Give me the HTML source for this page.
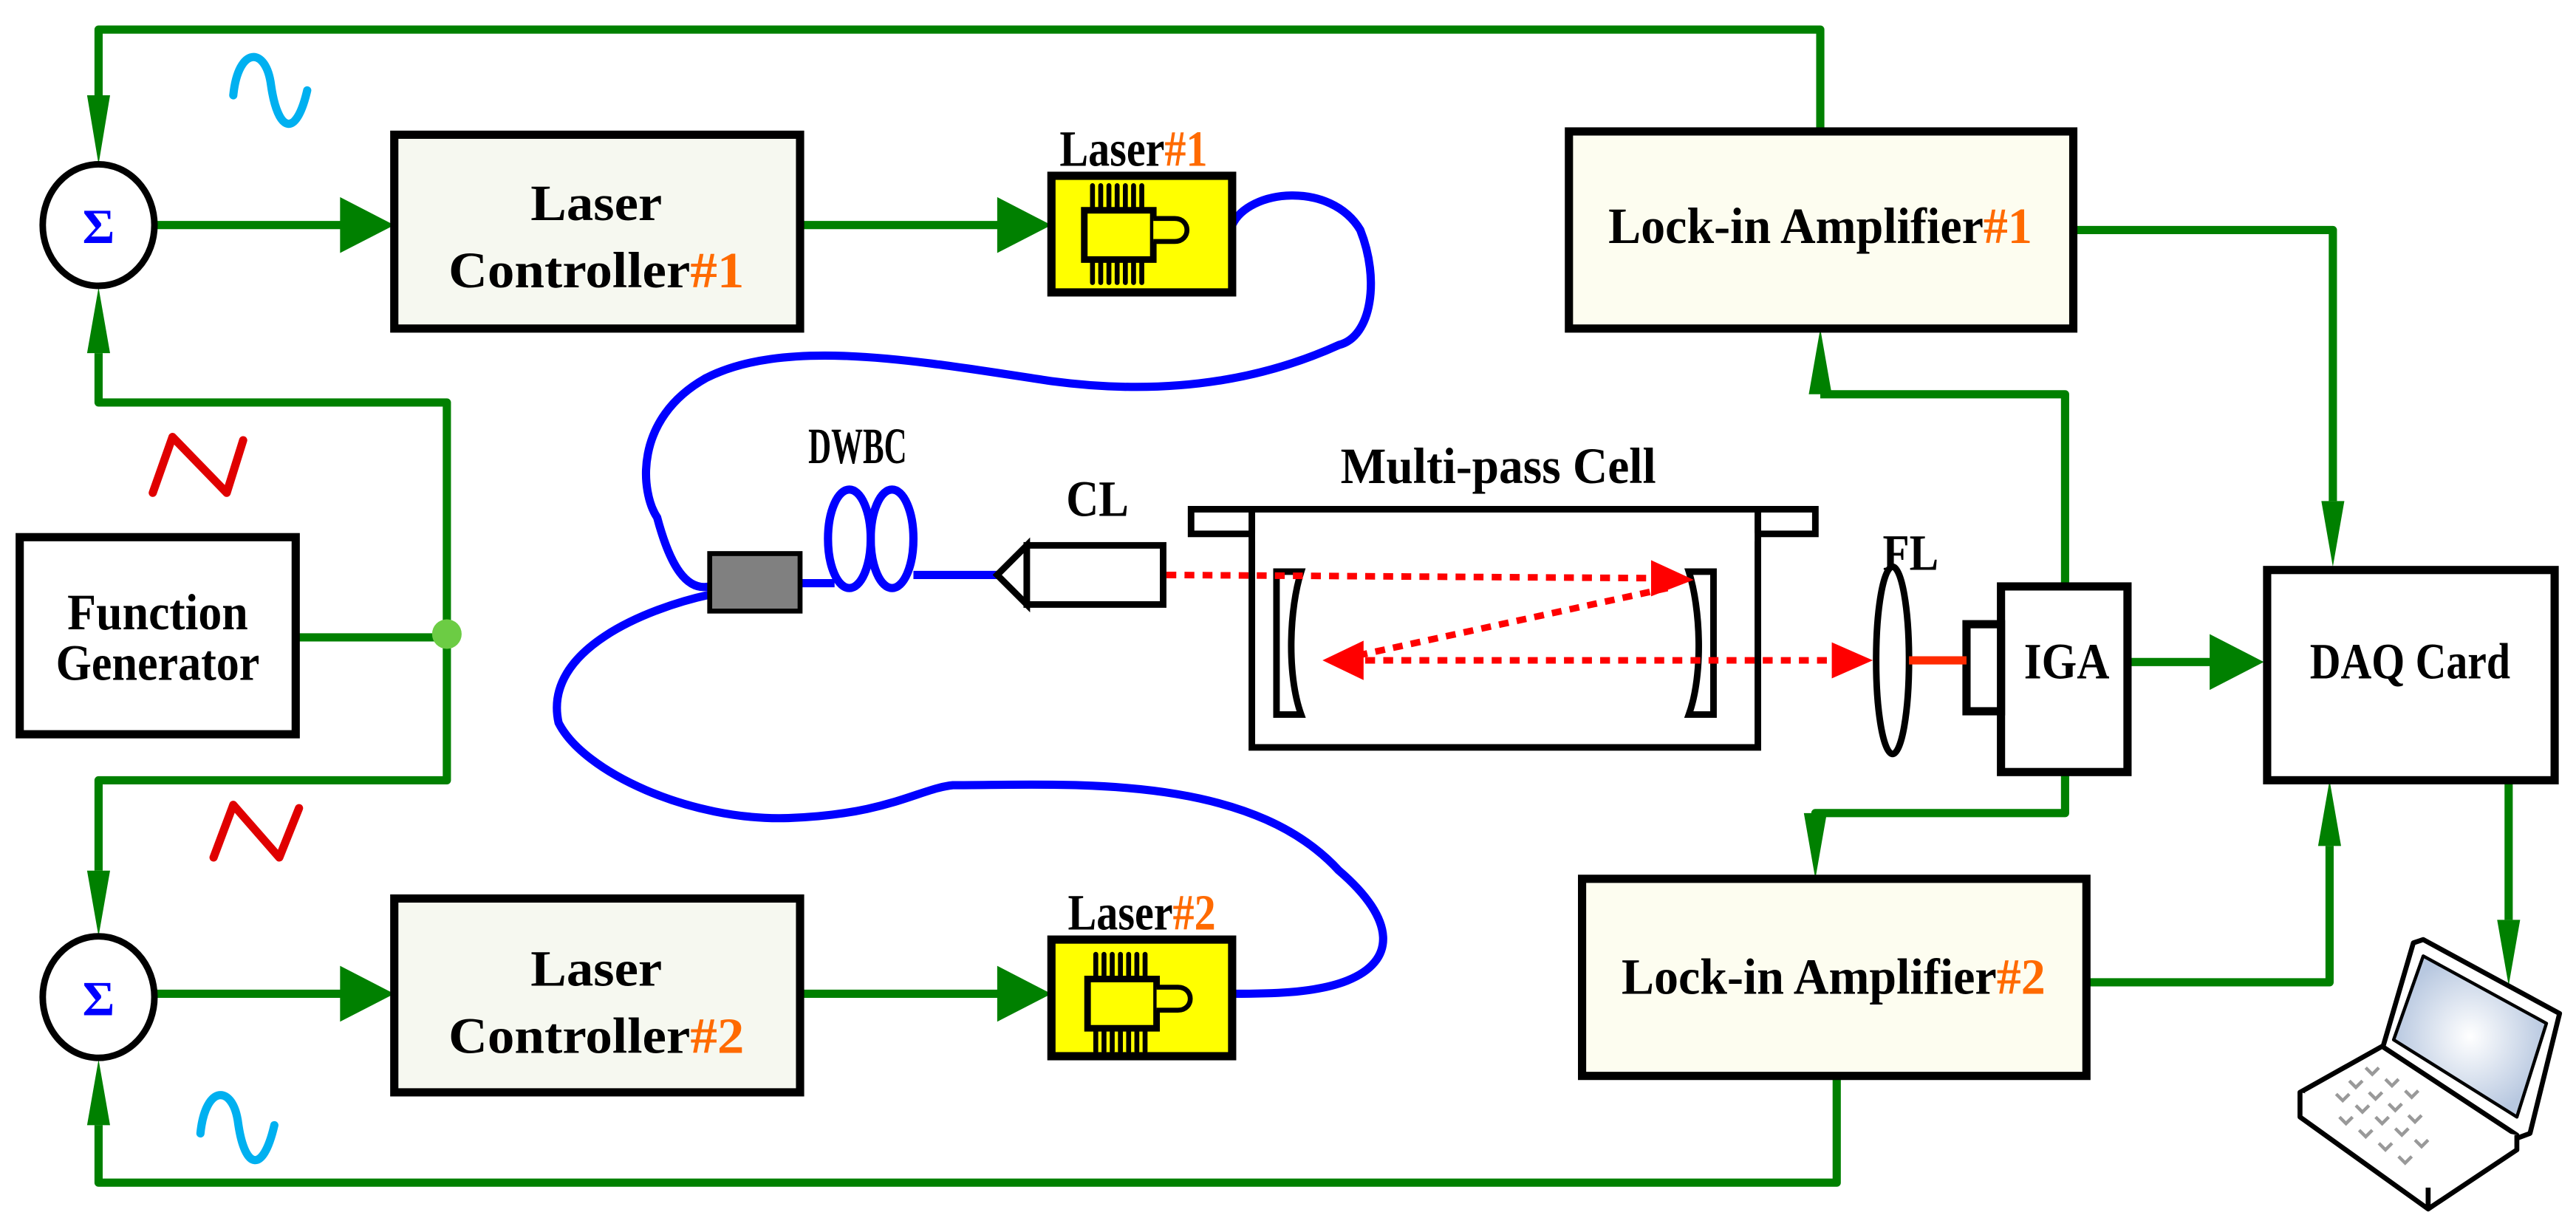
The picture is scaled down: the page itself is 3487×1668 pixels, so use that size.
<!DOCTYPE html>
<html><head><meta charset="utf-8"><style>html,body{margin:0;padding:0;background:#fff}svg{display:block}text{font-family:"Liberation Serif",serif;font-weight:bold}</style></head>
<body>
<svg width="3487" height="1668" viewBox="0 0 1568 750" xmlns="http://www.w3.org/2000/svg">
<g fill="none" stroke="#008000" stroke-width="5" stroke-linejoin="round">
<polyline points="1108,80 1108,18 60,18 60,60"/>
<line x1="95" y1="137" x2="212" y2="137"/>
<line x1="487" y1="137" x2="612" y2="137"/>
<polyline points="180,388 272,388"/>
<polyline points="60,215 60,245 272,245 272,475 60,475 60,530"/>
<line x1="95" y1="605" x2="212" y2="605"/>
<line x1="487" y1="605" x2="612" y2="605"/>
<polyline points="1118,655 1118,720 60,720 60,685"/>
<polyline points="1262,140 1420,140 1420,305"/>
<polyline points="1257,355 1257,240 1108,240"/>
<line x1="1295" y1="403" x2="1350" y2="403"/>
<polyline points="1257,470 1257,495 1105,495 1105,500"/>
<polyline points="1270,598 1418,598 1418,515"/>
<polyline points="1527,475 1527,560"/>
</g>
<g fill="#008000">
<path d="M53,58 L67,58 L60,100Z"/>
<path d="M53,215 L67,215 L60,175Z"/>
<path d="M53,530 L67,530 L60,570Z"/>
<path d="M53,685 L67,685 L60,645Z"/>
<path d="M1101,240 L1115,240 L1108,200Z"/>
<path d="M1413,305 L1427,305 L1420,345Z"/>
<path d="M1098,495 L1112,495 L1105,535Z"/>
<path d="M1411,515 L1425,515 L1418,475Z"/>
<path d="M1520,560 L1534,560 L1527,600Z"/>
<path d="M207,120 L240,137 L207,154Z"/>
<path d="M607,120 L640,137 L607,154Z"/>
<path d="M207,588 L240,605 L207,622Z"/>
<path d="M607,588 L640,605 L607,622Z"/>
<path d="M1345,386 L1378,403 L1345,420Z"/>
</g>
<circle cx="272" cy="386" r="9" fill="#6ccc44"/>
<ellipse cx="60" cy="137" rx="34" ry="37" fill="#fff" stroke="#000" stroke-width="4"/>
<ellipse cx="60" cy="607" rx="34" ry="37" fill="#fff" stroke="#000" stroke-width="4"/>
<text x="60" y="148" text-anchor="middle" font-size="30" fill="#0000ff">Σ</text>
<text x="60" y="618" text-anchor="middle" font-size="30" fill="#0000ff">Σ</text>
<path d="M142,58 C145,28 162,28 165,52 C169,80 180,85 187,55" fill="none" stroke="#00b0f0" stroke-width="5" stroke-linecap="round"/>
<path d="M122,690 C125,660 142,660 145,684 C149,712 160,715 167,685" fill="none" stroke="#00b0f0" stroke-width="5" stroke-linecap="round"/>
<polyline points="93,300 105,266 138,300 148,268" fill="none" stroke="#e00000" stroke-width="5" stroke-linecap="round" stroke-linejoin="round"/>
<polyline points="130,522 142,490 170,522 182,492" fill="none" stroke="#e00000" stroke-width="5" stroke-linecap="round" stroke-linejoin="round"/>
<g stroke="#000" stroke-width="5">
<rect x="240" y="82" width="247" height="118" fill="#f6f8f0"/>
<rect x="240" y="547" width="247" height="118" fill="#f6f8f0"/>
<rect x="12" y="327" width="168" height="120" fill="#fff"/>
<rect x="955" y="80" width="307" height="120" fill="#fdfdf0"/>
<rect x="963" y="535" width="307" height="120" fill="#fdfdf0"/>
<rect x="1380" y="347" width="175" height="128" fill="#fff"/>
<rect x="1218" y="357" width="77" height="113" fill="#fff"/>
<rect x="1197" y="380" width="21" height="53" fill="#fff"/>
</g>
<g font-size="31" text-anchor="middle">
<text x="363" y="134" textLength="80" lengthAdjust="spacingAndGlyphs">Laser</text>
<text x="363" y="175" textLength="180" lengthAdjust="spacingAndGlyphs">Controller<tspan fill="#ff6a00">#1</tspan></text>
<text x="363" y="600" textLength="80" lengthAdjust="spacingAndGlyphs">Laser</text>
<text x="363" y="641" textLength="180" lengthAdjust="spacingAndGlyphs">Controller<tspan fill="#ff6a00">#2</tspan></text>
<text x="96" y="383" textLength="110" lengthAdjust="spacingAndGlyphs">Function</text>
<text x="96" y="414" textLength="124" lengthAdjust="spacingAndGlyphs">Generator</text>
<text x="1108" y="148" textLength="258" lengthAdjust="spacingAndGlyphs">Lock-in Amplifier<tspan fill="#ff6a00">#1</tspan></text>
<text x="1116" y="605" textLength="258" lengthAdjust="spacingAndGlyphs">Lock-in Amplifier<tspan fill="#ff6a00">#2</tspan></text>
<text x="1467" y="413" textLength="122" lengthAdjust="spacingAndGlyphs">DAQ Card</text>
<text x="1258" y="413" textLength="52" lengthAdjust="spacingAndGlyphs">IGA</text>
<text x="690" y="101" textLength="90" lengthAdjust="spacingAndGlyphs">Laser<tspan fill="#ff6a00">#1</tspan></text>
<text x="695" y="566" textLength="90" lengthAdjust="spacingAndGlyphs">Laser<tspan fill="#ff6a00">#2</tspan></text>
<text x="522" y="282" textLength="60" lengthAdjust="spacingAndGlyphs">DWBC</text>
<text x="668" y="314" textLength="38" lengthAdjust="spacingAndGlyphs">CL</text>
<text x="912" y="294" textLength="192" lengthAdjust="spacingAndGlyphs">Multi-pass Cell</text>
<text x="1163" y="347" textLength="34" lengthAdjust="spacingAndGlyphs">FL</text>
</g>
<g fill="none" stroke="#0000ff" stroke-width="5">
<path d="M750,137 C760,115 810,110 828,140 C840,170 835,205 815,210 C760,235 700,240 640,232 C560,220 480,205 430,230 C385,255 390,300 400,315 C408,345 418,360 432,357"/>
<path d="M432,362 C395,370 330,395 340,440 C355,470 420,500 480,498 C540,496 560,480 580,478 C650,478 760,470 815,530 C850,560 850,585 820,597 C800,605 770,605 750,605"/>
<path d="M487,355 L508,355"/>
<ellipse cx="517" cy="328" rx="13" ry="30"/>
<ellipse cx="543" cy="328" rx="13" ry="30"/>
<path d="M556,350 L607,350"/>
</g>
<rect x="432" y="337" width="55" height="35" fill="#808080" stroke="#000" stroke-width="3"/>
<rect x="640" y="107" width="110" height="71" fill="#ffff00" stroke="#000" stroke-width="5"/>
<rect x="640" y="572" width="110" height="71" fill="#ffff00" stroke="#000" stroke-width="5"/>
<g id="ld" stroke="#000">
<g stroke-width="3" stroke-linecap="round">
<line x1="665" y1="113" x2="665" y2="172"/><line x1="670" y1="113" x2="670" y2="172"/><line x1="675" y1="113" x2="675" y2="172"/><line x1="680" y1="113" x2="680" y2="172"/><line x1="685" y1="113" x2="685" y2="172"/><line x1="690" y1="113" x2="690" y2="172"/><line x1="695" y1="113" x2="695" y2="172"/>
</g>
<rect x="660" y="128" width="42" height="30" fill="#ffff00" stroke-width="4"/>
<path d="M702,133 L715,133 C725,133 725,147 715,147 L702,147" fill="#ffff00" stroke-width="3"/>
</g>
<use href="#ld" transform="translate(2,468)"/>
<path d="M625,332 L607,350 L625,368Z" fill="#fff" stroke="#000" stroke-width="4"/>
<rect x="625" y="332" width="83" height="36" fill="#fff" stroke="#000" stroke-width="4"/>
<g stroke="#000" stroke-width="4" fill="#fff">
<rect x="725" y="310" width="380" height="15"/>
<rect x="762" y="310" width="308" height="145"/>
<line x1="764" y1="327" x2="1068" y2="327" stroke="#fff" stroke-width="5"/>
<path d="M777,348 L792,348 C785,370 783,410 792,435 L777,435Z"/>
<path d="M1043,348 L1028,348 C1035,370 1037,410 1028,435 L1043,435Z"/>
</g>
<g stroke="#ff0000" stroke-width="4" stroke-dasharray="6,5" fill="none">
<line x1="710" y1="350" x2="1012" y2="352"/>
<line x1="1015" y1="358" x2="822" y2="400"/>
<line x1="820" y1="402" x2="1120" y2="402"/>
</g>
<g fill="#ff0000">
<path d="M1005,341 L1031,353 L1005,363Z"/>
<path d="M830,390 L805,402 L830,414Z"/>
<path d="M1115,391 L1140,402 L1115,413Z"/>
</g>
<ellipse cx="1152" cy="402" rx="10" ry="57" fill="#fff" stroke="#000" stroke-width="4"/>
<line x1="1162" y1="402" x2="1197" y2="402" stroke="#ff2a00" stroke-width="5"/>
<defs><radialGradient id="sc"><stop offset="0" stop-color="#fff"/><stop offset="1" stop-color="#b8c8e0"/></radialGradient></defs>
<g stroke="#000" stroke-width="3" fill="#fff" stroke-linejoin="round">
<path d="M1469,574 L1475,572 L1558,617 L1540,690 L1532,693 L1450,639Z"/>
<path d="M1475,582 L1550,623 L1532,680 L1457,633Z" fill="url(#sc)" stroke-width="2"/>
<path d="M1450,637 L1532,691 L1478,723 L1400,665Z"/>
<path d="M1400,665 L1400,680 L1478,736 L1532,700 L1532,691"/>
<line x1="1478" y1="723" x2="1478" y2="736"/>
</g>
<g stroke="#999" stroke-width="2" fill="none">
<path d="M1440,650 l4,4 l4,-4 M1452,657 l4,4 l4,-4 M1464,664 l4,4 l4,-4 M1430,658 l4,4 l4,-4 M1442,665 l4,4 l4,-4 M1454,672 l4,4 l4,-4 M1466,679 l4,4 l4,-4 M1422,666 l4,4 l4,-4 M1434,673 l4,4 l4,-4 M1446,680 l4,4 l4,-4 M1458,687 l4,4 l4,-4 M1470,694 l4,4 l4,-4 M1424,680 l4,4 l4,-4 M1436,688 l4,4 l4,-4 M1448,696 l4,4 l4,-4 M1460,704 l4,4 l4,-4"/>
</g>
</svg>
</body></html>
